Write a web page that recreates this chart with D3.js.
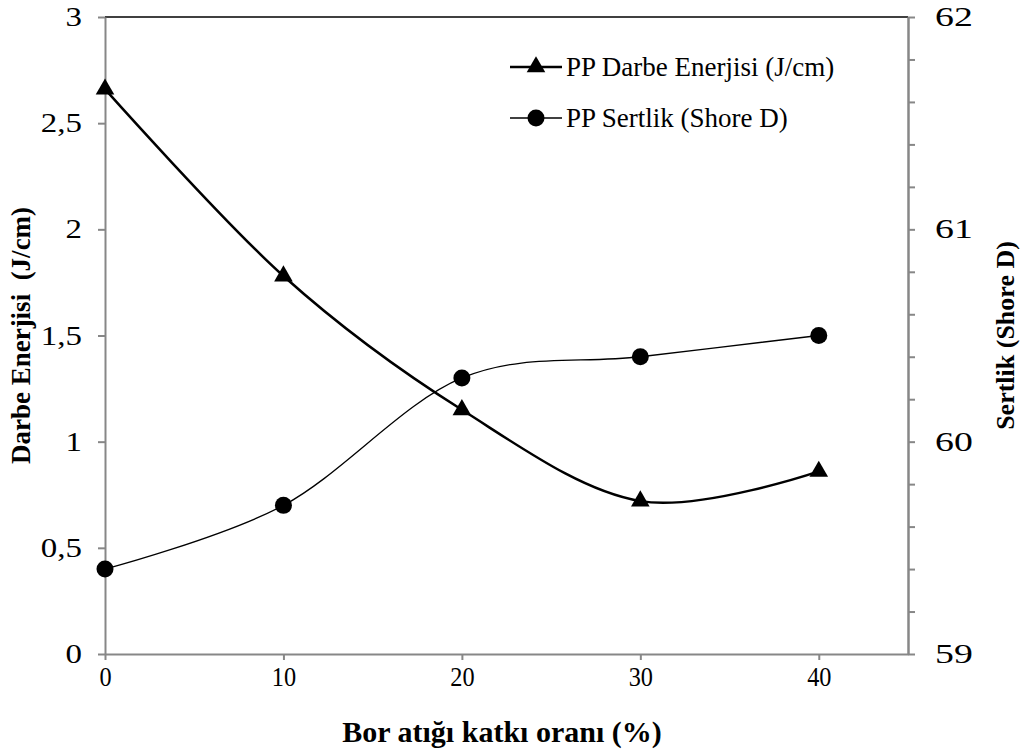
<!DOCTYPE html>
<html>
<head>
<meta charset="utf-8">
<script src="https://cdn.jsdelivr.net/npm/d3@7"></script>
<style>
  html, body { margin: 0; padding: 0; background: #fff; }
  svg text { font-family: "Liberation Serif", "DejaVu Serif", serif; }
</style>
</head>
<body>
<svg id="chart" width="1024" height="753"></svg>
<script>
// Bor atığı katkı oranı (%)
const additive = [0, 10, 20, 30, 40];
// PP Darbe Enerjisi (J/cm)
const impactEnergy = [2.66, 1.78, 1.15, 0.72, 0.86];
// PP Sertlik (Shore D)
const hardness = [59.4, 59.7, 60.3, 60.4, 60.5];

const xTicks = [0, 10, 20, 30, 40];
const leftTicks = [0, 0.5, 1, 1.5, 2, 2.5, 3];
const rightMajor = [59, 60, 61, 62];
const rightMinor = [59.2, 59.4, 59.6, 59.8, 60.2, 60.4, 60.6, 60.8, 61.2, 61.4, 61.6, 61.8];

const seriesNames = ["PP Darbe Enerjisi (J/cm)", "PP Sertlik (Shore D)"];
const axisTitles = { x: "Bor atığı katkı oranı (%)", left: "Darbe Enerjisi  (J/cm)", right: "Sertlik (Shore D)" };

const FONT = "'Liberation Serif', 'DejaVu Serif', serif";
const svg = d3.select("#chart");
const plot = { left: 105, right: 908, top: 17, bottom: 654 };
const axisGray = "#878787";

const x = d3.scaleLinear().domain([0, 45]).range([plot.left, plot.right]);
const yL = d3.scaleLinear().domain([0, 3]).range([plot.bottom, plot.top]);
const yR = d3.scaleLinear().domain([59, 62]).range([plot.bottom, plot.top]);

const fmt = d => String(d).replace(".", ",");

// top frame line
svg.append("line")
  .attr("x1", plot.left).attr("x2", plot.right)
  .attr("y1", plot.top).attr("y2", plot.top)
  .attr("stroke", "#000").attr("stroke-width", 1.5);

// shared axis styling; tick labels are stretched horizontally by sx
function styleAxis(g, sx, offset) {
  g.attr("font-family", FONT);
  g.select(".domain").attr("stroke", axisGray).attr("stroke-width", 2);
  g.selectAll(".tick line").attr("stroke", axisGray).attr("stroke-width", 2);
  const t = g.selectAll(".tick text").attr("fill", "#000")
    .attr("font-family", FONT).attr("font-size", 27);
  if (sx !== undefined) {
    t.attr("transform", `scale(${sx},1)`);
    if (offset !== undefined) t.attr("x", offset / sx);
  }
}

// bottom axis
svg.append("g")
  .attr("transform", `translate(0,${plot.bottom})`)
  .call(d3.axisBottom(x).tickValues(xTicks).tickSizeInner(6).tickSizeOuter(0).tickPadding(7).tickFormat(d3.format("d")))
  .call(g => styleAxis(g, 0.9));

// left axis
svg.append("g")
  .attr("transform", `translate(${plot.left},0)`)
  .call(d3.axisLeft(yL).tickValues(leftTicks).tickSizeInner(7).tickSizeOuter(0).tickFormat(fmt))
  .call(g => styleAxis(g, 1.22, -23));

// right axis with minor ticks
svg.append("g")
  .attr("transform", `translate(${plot.right},0)`)
  .call(d3.axisRight(yR).tickValues(rightMinor).tickSizeInner(7).tickSizeOuter(0).tickFormat(""))
  .call(g => styleAxis(g));
svg.append("g")
  .attr("transform", `translate(${plot.right},0)`)
  .call(d3.axisRight(yR).tickValues(rightMajor).tickSizeInner(7).tickSizeOuter(0).tickFormat(d3.format("d")))
  .call(g => styleAxis(g, 1.4, 27));

// axis titles
svg.append("text")
  .attr("x", 502).attr("y", 742)
  .attr("text-anchor", "middle")
  .attr("font-family", FONT).attr("font-size", 30).attr("font-weight", "bold")
  .text(axisTitles.x);
svg.append("text")
  .attr("transform", `translate(30,${(plot.top + plot.bottom) / 2}) rotate(-90)`)
  .attr("text-anchor", "middle")
  .attr("font-family", FONT).attr("font-size", 27).attr("font-weight", "bold")
  .style("white-space", "pre")
  .text(axisTitles.left);
svg.append("text")
  .attr("transform", `translate(1014,${(plot.top + plot.bottom) / 2}) rotate(-90)`)
  .attr("text-anchor", "middle")
  .attr("font-family", FONT).attr("font-size", 26).attr("font-weight", "bold")
  .text(axisTitles.right);

const curve = d3.curveCardinal.tension(0);
const triangle = d3.symbol().type(d3.symbolTriangle).size(150);

// impact energy series
const energyData = additive.map((a, i) => [a, impactEnergy[i]]);
svg.append("path")
  .datum(energyData)
  .attr("fill", "none").attr("stroke", "#000").attr("stroke-width", 2.5)
  .attr("d", d3.line().x(d => x(d[0])).y(d => yL(d[1])).curve(curve));

// hardness series
const hardData = additive.map((a, i) => [a, hardness[i]]);
svg.append("path")
  .datum(hardData)
  .attr("fill", "none").attr("stroke", "#000").attr("stroke-width", 1.3)
  .attr("d", d3.line().x(d => x(d[0])).y(d => yR(d[1])).curve(curve));

svg.append("g").selectAll("path")
  .data(energyData).join("path")
  .attr("transform", d => `translate(${x(d[0])},${yL(d[1])})`)
  .attr("d", triangle).attr("fill", "#000");

svg.append("g").selectAll("circle")
  .data(hardData).join("circle")
  .attr("cx", d => x(d[0])).attr("cy", d => yR(d[1]))
  .attr("r", 8.5).attr("fill", "#000");

// legend
const legend = svg.append("g");
const legendRows = [
  { y: 67, width: 2.5, marker: "triangle" },
  { y: 118, width: 1.3, marker: "circle" }
];
legendRows.forEach((row, i) => {
  const g = legend.append("g").attr("transform", `translate(0,${row.y})`);
  g.append("line").attr("x1", 510).attr("x2", 562).attr("y1", 0).attr("y2", 0)
    .attr("stroke", "#000").attr("stroke-width", row.width);
  if (row.marker === "triangle") {
    g.append("path").attr("transform", "translate(536,0)").attr("d", triangle).attr("fill", "#000");
  } else {
    g.append("circle").attr("cx", 536).attr("cy", 0).attr("r", 8.5).attr("fill", "#000");
  }
  g.append("text").attr("x", 566).attr("y", 9)
    .attr("font-family", FONT).attr("font-size", 27)
    .text(seriesNames[i]);
});
</script>
</body>
</html>
